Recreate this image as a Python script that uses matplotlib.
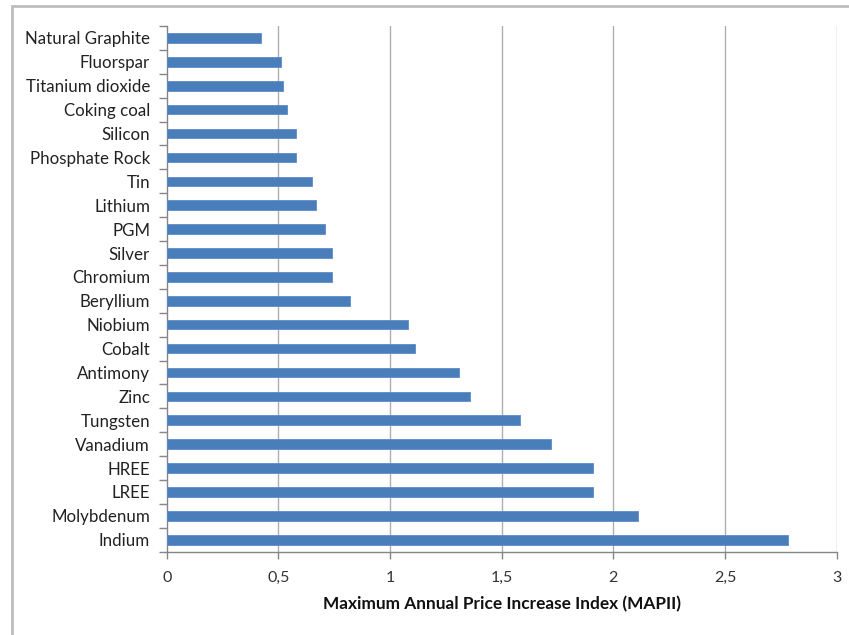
import matplotlib
matplotlib.use("Agg")
import matplotlib.pyplot as plt
from matplotlib.patches import Rectangle
from matplotlib.ticker import FixedLocator, FuncFormatter

categories = ["Indium", "Molybdenum", "LREE", "HREE", "Vanadium", "Tungsten",
              "Zinc", "Antimony", "Cobalt", "Niobium", "Beryllium", "Chromium",
              "Silver", "PGM", "Lithium", "Tin", "Phosphate Rock", "Silicon",
              "Coking coal", "Titanium dioxide", "Fluorspar", "Natural Graphite"]
values = [2.78, 2.11, 1.91, 1.91, 1.72, 1.58, 1.36, 1.31, 1.11, 1.08, 0.82, 0.74,
          0.74, 0.71, 0.67, 0.65, 0.58, 0.58, 0.54, 0.52, 0.51, 0.42]
xticks = [0, 0.5, 1, 1.5, 2, 2.5, 3]
xlabel = "Maximum Annual Price Increase Index (MAPII)"

plt.rcParams['font.family'] = ['Lato', 'DejaVu Sans']

W, H = 849, 635
fig = plt.figure(figsize=(W / 100, H / 100), dpi=100)
ax = fig.add_axes([166.7 / W, 1 - 551.7 / H, (836.7 - 166.7) / W, (551.7 - 26) / H])

ypos = list(range(len(categories)))
ax.barh(ypos, values, height=0.4, color="#4A7EBB", edgecolor="#5B8CC8",
        linewidth=0.6, zorder=3)

ax.set_xlim(0, 3)
ax.set_ylim(-0.5, len(categories) - 0.5)
ax.set_xticks(xticks)
ax.xaxis.set_major_formatter(FuncFormatter(lambda v, p: ("%g" % v).replace(".", ",")))
for x in xticks[1:]:
    ax.axvline(x, color="#AFAFAF", linewidth=1.0, zorder=1)

ax.set_yticks(ypos)
ax.set_yticklabels(categories)
ax.yaxis.set_minor_locator(FixedLocator([i - 0.5 for i in range(len(categories) + 1)]))
ax.tick_params(axis='y', which='major', length=0, pad=12, labelsize=12.2, labelcolor="#222222")
ax.tick_params(axis='y', which='minor', length=6, color="#868686", width=1)
ax.tick_params(axis='x', which='major', length=5, color="#868686", width=1,
               pad=9, labelsize=11.5, labelcolor="#333333")

for s in ["top", "right"]:
    ax.spines[s].set_visible(False)
for s in ["left", "bottom"]:
    ax.spines[s].set_color("#868686")
    ax.spines[s].set_linewidth(1)

ax.set_xlabel(xlabel, fontsize=12.4, fontweight="bold", labelpad=8, color="#111111")

fig.patches.append(Rectangle((12 / W, -0.05), 1.0, 1 - 6 / H + 0.05,
                             transform=fig.transFigure, fill=False,
                             edgecolor="#BDBDBD", linewidth=2))

fig.savefig("out.png", dpi=100)
